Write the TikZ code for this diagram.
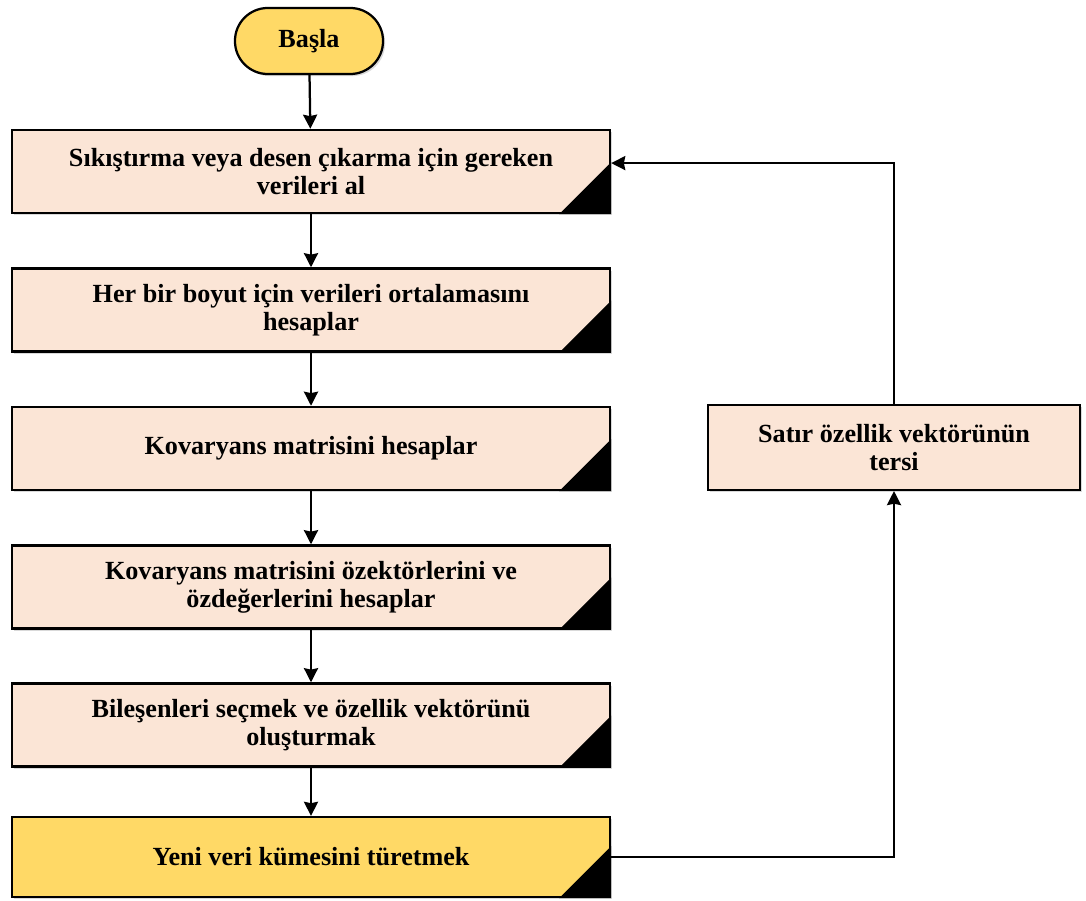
\documentclass[tikz,border=0pt]{standalone}
\usepackage{fontspec}
\setmainfont{Liberation Serif}
\usetikzlibrary{arrows.meta,shadows}

\definecolor{startyellow}{HTML}{FFD966}
\definecolor{stepfill}{HTML}{FBE5D6}

\tikzset{
  boxtext/.style={font=\bfseries\fontsize{18.6}{20}\selectfont, align=center},
  startnode/.style={boxtext, draw=black, line width=1.6pt, fill=startyellow,
    rounded corners=0.82cm, minimum width=3.7cm, minimum height=1.65cm,
    drop shadow={shadow xshift=1.5pt, shadow yshift=-1.5pt, opacity=0.3}},
  stepbox/.style={boxtext, draw=black, line width=1.6pt, fill=stepfill,
    minimum width=14.95cm, minimum height=2.08cm,
    drop shadow={shadow xshift=1.5pt, shadow yshift=-1.5pt, opacity=0.3}},
  flow/.style={line width=1.6pt, -{Stealth[length=10pt,width=10pt,inset=1pt]}}
}

\begin{document}
\begin{tikzpicture}[x=0.025cm, y=-0.025cm]
			%%%%% START %%%%%
			\useasboundingbox (0, 0) rectangle (1086, 901);
			
			\node[startnode] (start) at (309, 41) {Başla};
			
			\node[stepbox] (data) at (311, 171.5) {Sıkıştırma veya desen çıkarma için gereken\\verileri al};
			\node[stepbox] (mean) at (311, 310) {Her bir boyut için verileri ortalamasını\\hesaplar};
			\node[stepbox] (cov) at (311, 448.5) {Kovaryans matrisini hesaplar};
			\node[stepbox] (eig) at (311, 587) {Kovaryans matrisini özektörlerini ve\\özdeğerlerini hesaplar};
			\node[stepbox] (feat) at (311, 725) {Bileşenleri seçmek ve özellik vektörünü\\oluşturmak};
			\node[stepbox, fill=startyellow, minimum height=2cm] (newdata) at (311, 857) {Yeni veri kümesini türetmek};
			
			\node[stepbox, minimum width=9.3cm, minimum height=2.12cm] (inv) at (894, 447.5) {Satır özellik vektörünün\\tersi};
			
			% corner marks
			\foreach \n in {data, mean, cov, eig, feat, newdata}
				\fill[black] (\n.south east) -- ++(-52, 0) -- ++(52, -52) -- cycle;
			
			\draw[flow] (start) -- (data);
			\draw[flow] (data) -- (mean);
			\draw[flow] (mean) -- (cov);
			\draw[flow] (cov) -- (eig);
			\draw[flow] (eig) -- (feat);
			\draw[flow] (feat) -- (newdata);
			
			\draw[flow] (newdata.east) -| (inv.south);
			\draw[flow] (inv.north) |- ([yshift=0.21cm]data.east);
			
			%%%%% END %%%%%
\end{tikzpicture}
\end{document}
